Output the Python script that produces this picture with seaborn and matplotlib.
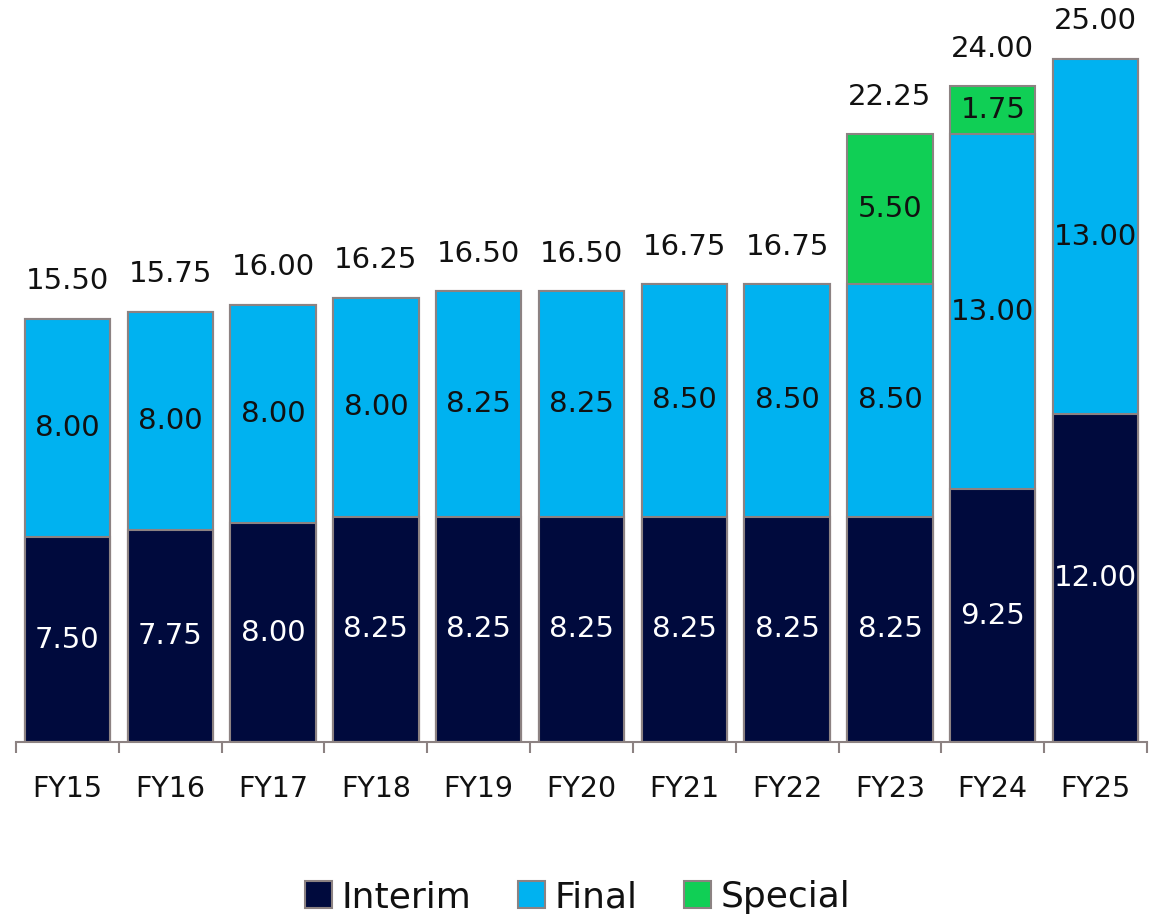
import numpy as np
import pandas as pd
import matplotlib
matplotlib.use("Agg")
import matplotlib.pyplot as plt
import seaborn as sns
from matplotlib.patches import Patch

sns.set_theme(style="white")
plt.rcParams["font.family"] = ["DejaVu Sans"]

years = ["FY15", "FY16", "FY17", "FY18", "FY19", "FY20", "FY21", "FY22", "FY23", "FY24", "FY25"]
interim = [7.50, 7.75, 8.00, 8.25, 8.25, 8.25, 8.25, 8.25, 8.25, 9.25, 12.00]
final = [8.00, 8.00, 8.00, 8.00, 8.25, 8.25, 8.50, 8.50, 8.50, 13.00, 13.00]
special = [0, 0, 0, 0, 0, 0, 0, 0, 5.50, 1.75, 0]

NAVY = "#000A3D"
BLUE = "#00B2F0"
GREEN = "#10CF55"
EDGE = "#8C8282"
TXT = "#111111"

df = pd.DataFrame({"year": years, "interim": interim, "final": final, "special": special})
df["lower2"] = df["interim"] + df["final"]
df["total"] = df["lower2"] + df["special"]

fig = plt.figure(figsize=(11.55, 9.19), dpi=100)
ax = fig.add_axes([16 / 1155, (919 - 742) / 919, (1147 - 16) / 1155, 742 / 919])

bar_kw = dict(width=0.83, edgecolor=EDGE, linewidth=1.5, saturation=1, ax=ax)
# classic seaborn stacking: draw cumulative totals from the top layer down
sns.barplot(data=df, x="year", y="total", color=GREEN, **bar_kw)
sns.barplot(data=df, x="year", y="lower2", color=BLUE, **bar_kw)
sns.barplot(data=df, x="year", y="interim", color=NAVY, **bar_kw)

ax.set_xlim(-0.5, len(years) - 0.5)
ax.set_ylim(0, 742 / 27.32)
ax.set_xlabel("")
ax.set_ylabel("")
ax.set_yticks([])
for s in ["top", "right", "left"]:
    ax.spines[s].set_visible(False)
ax.spines["bottom"].set_color(EDGE)
ax.spines["bottom"].set_linewidth(1.5)

ax.tick_params(axis="x", which="major", length=0, pad=24, labelsize=20.5, labelcolor=TXT)
ax.set_xticks(np.arange(len(years) + 1) - 0.5, minor=True)
ax.tick_params(axis="x", which="minor", bottom=True, length=8, width=1.5, color=EDGE,
               direction="out")

fs = 21
for i, row in df.iterrows():
    ax.text(i, row["interim"] / 2, f"{row['interim']:.2f}", ha="center", va="center",
            color="white", fontsize=fs)
    ax.text(i, row["interim"] + row["final"] / 2, f"{row['final']:.2f}", ha="center",
            va="center", color=TXT, fontsize=fs)
    if row["special"] > 0:
        ax.text(i, row["lower2"] + row["special"] / 2, f"{row['special']:.2f}", ha="center",
                va="center", color=TXT, fontsize=fs)
    ax.annotate(f"{row['total']:.2f}", (i, row["total"]), xytext=(0, 17),
                textcoords="offset points", ha="center", va="bottom",
                color=TXT, fontsize=fs)

handles = [Patch(facecolor=c, edgecolor=EDGE, linewidth=1.5) for c in (NAVY, BLUE, GREEN)]
leg = fig.legend(handles, ["Interim", "Final", "Special"], loc="lower center",
                 bbox_to_anchor=(0.5, -0.03), ncol=3, frameon=False, fontsize=26,
                 handlelength=0.75, handleheight=0.75, handletextpad=0.25, columnspacing=1.3)
for t in leg.get_texts():
    t.set_color(TXT)

fig.savefig("out.png", dpi=100)
